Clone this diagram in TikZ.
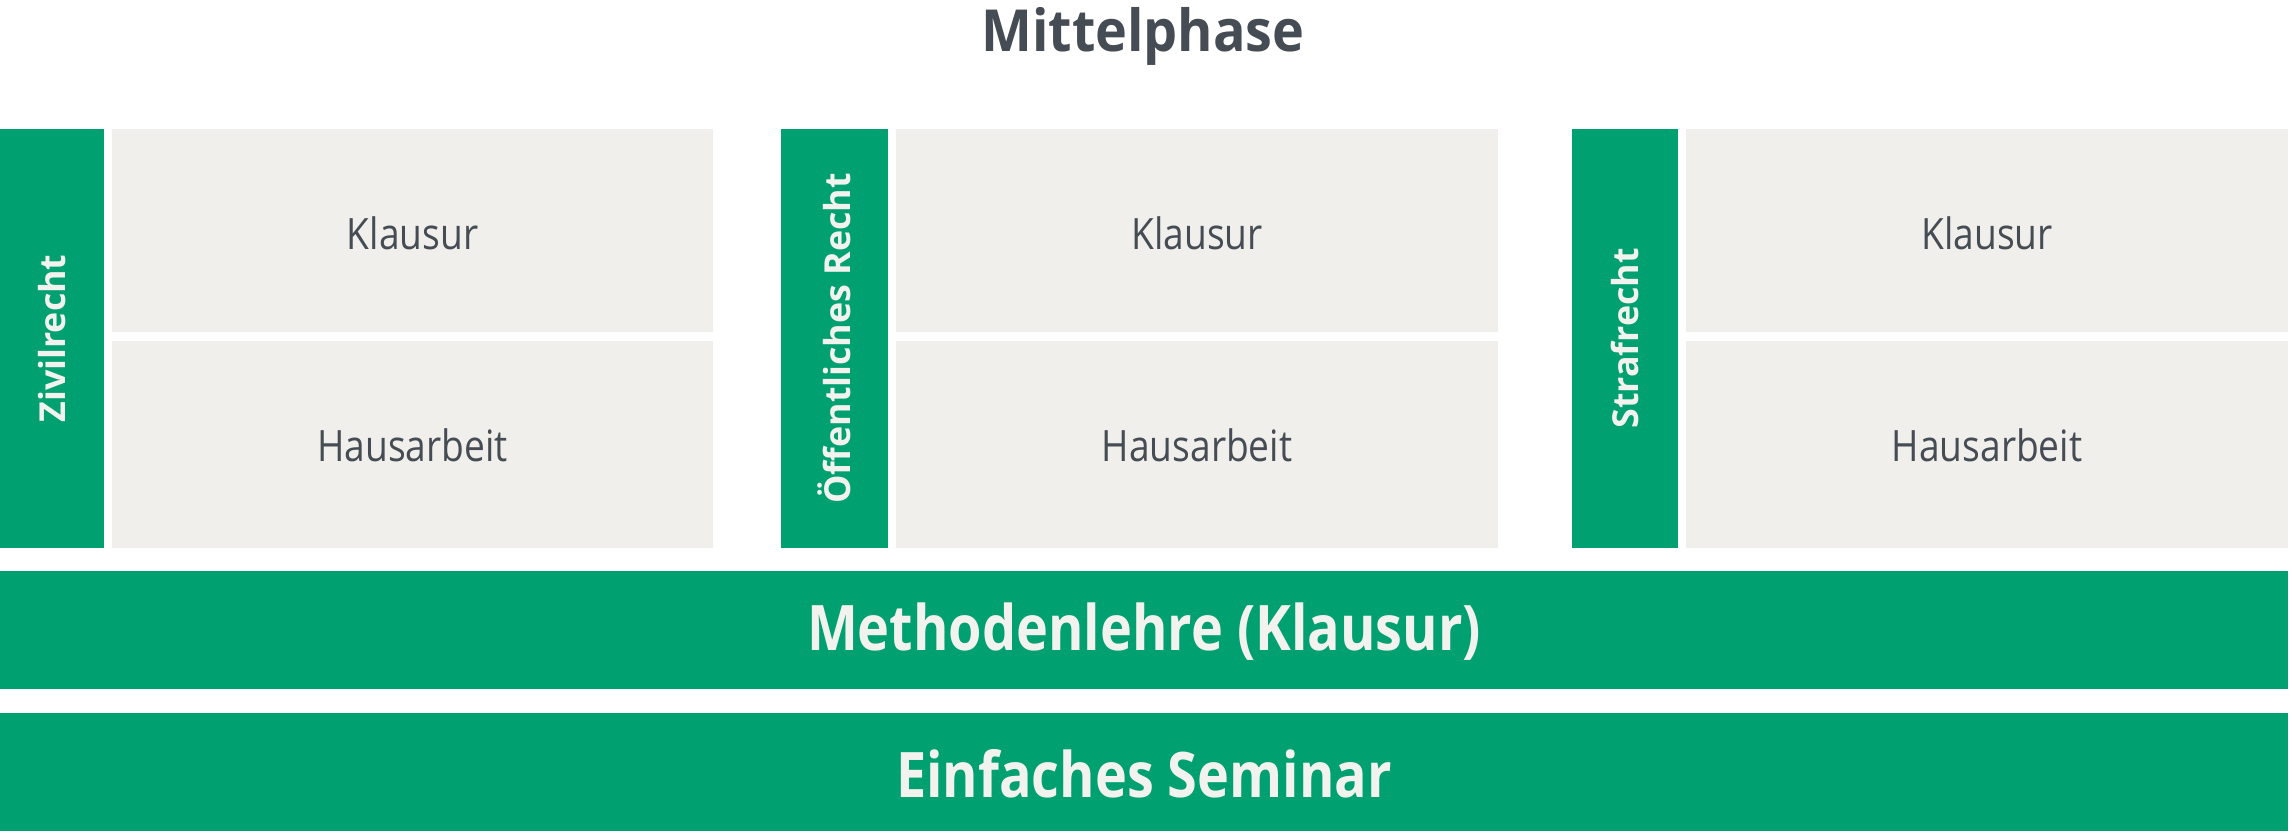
\documentclass[tikz,border=0pt]{standalone}
\usepackage{fontspec}
\setmainfont{Open Sans}[FakeStretch=0.86]
\newfontfamily\labelfont{Open Sans}
\newfontfamily\titlefont{Open Sans}[FakeStretch=0.93]
\definecolor{ugreen}{RGB}{0,160,112}
\definecolor{ugray}{RGB}{240,239,236}
\definecolor{utext}{RGB}{69,76,83}
\definecolor{uwhite}{RGB}{242,242,238}
\begin{document}
\begin{tikzpicture}[x=0.5pt,y=-0.5pt,
  every node/.style={inner sep=0pt,outer sep=0pt},
  every label/.style={inner sep=0pt,outer sep=0pt},
  greenbar/.style={fill=ugreen,text=uwhite,rotate=90,minimum width=209.5pt,
    font=\labelfont\bfseries\fontsize{17.9}{20}\selectfont},
  graybox/.style={fill=ugray,minimum width=301pt},
  graytext/.style={text=utext,font=\fontsize{21.6}{24}\selectfont},
  ktext/.style={graytext,yshift=-1.5pt},
  htext/.style={graytext,yshift=-0.5pt},
  klausurbox/.style={graybox,minimum height=101.5pt},
  hausbox/.style={graybox,minimum height=103.5pt},
  band/.style={fill=ugreen,minimum width=1144pt,minimum height=59pt},
  bandtext/.style={text=uwhite,yshift=-1pt,font=\bfseries\fontsize{31.4}{34}\selectfont},
  titletext/.style={text=utext,font=\titlefont\bfseries\fontsize{29}{32}\selectfont}]
\useasboundingbox (0,0) rectangle (2292,839);
\fill[white] (0,0) rectangle (2292,839);
\node[titletext] (title) at (1143,36) {Mittelphase};
% column 1
\node[greenbar,minimum height=52pt] (zr) at (52,338.5) {Zivilrecht};
\node[klausurbox,minimum width=300.5pt,label={[ktext]center:Klausur}] (zrk) at (412.5,230.5) {};
\node[hausbox,minimum width=300.5pt,label={[htext]center:Hausarbeit}] (zrh) at (412.5,444.5) {};
% column 2
\node[greenbar,minimum height=53.5pt] (or) at (834.5,338.5) {Öffentliches Recht};
\node[klausurbox,label={[ktext]center:Klausur}] (ork) at (1197,230.5) {};
\node[hausbox,label={[htext]center:Hausarbeit}] (orh) at (1197,444.5) {};
% column 3
\node[greenbar,minimum height=53pt] (sr) at (1625,338.5) {Strafrecht};
\node[klausurbox,label={[ktext]center:Klausur}] (srk) at (1987,230.5) {};
\node[hausbox,label={[htext]center:Hausarbeit}] (srh) at (1987,444.5) {};
% bands
\node[band,label={[bandtext]center:Methodenlehre (Klausur)}] (meth) at (1144,630) {};
\node[band,label={[bandtext]center:Einfaches Seminar}] (sem) at (1144,772) {};
\end{tikzpicture}
\end{document}
